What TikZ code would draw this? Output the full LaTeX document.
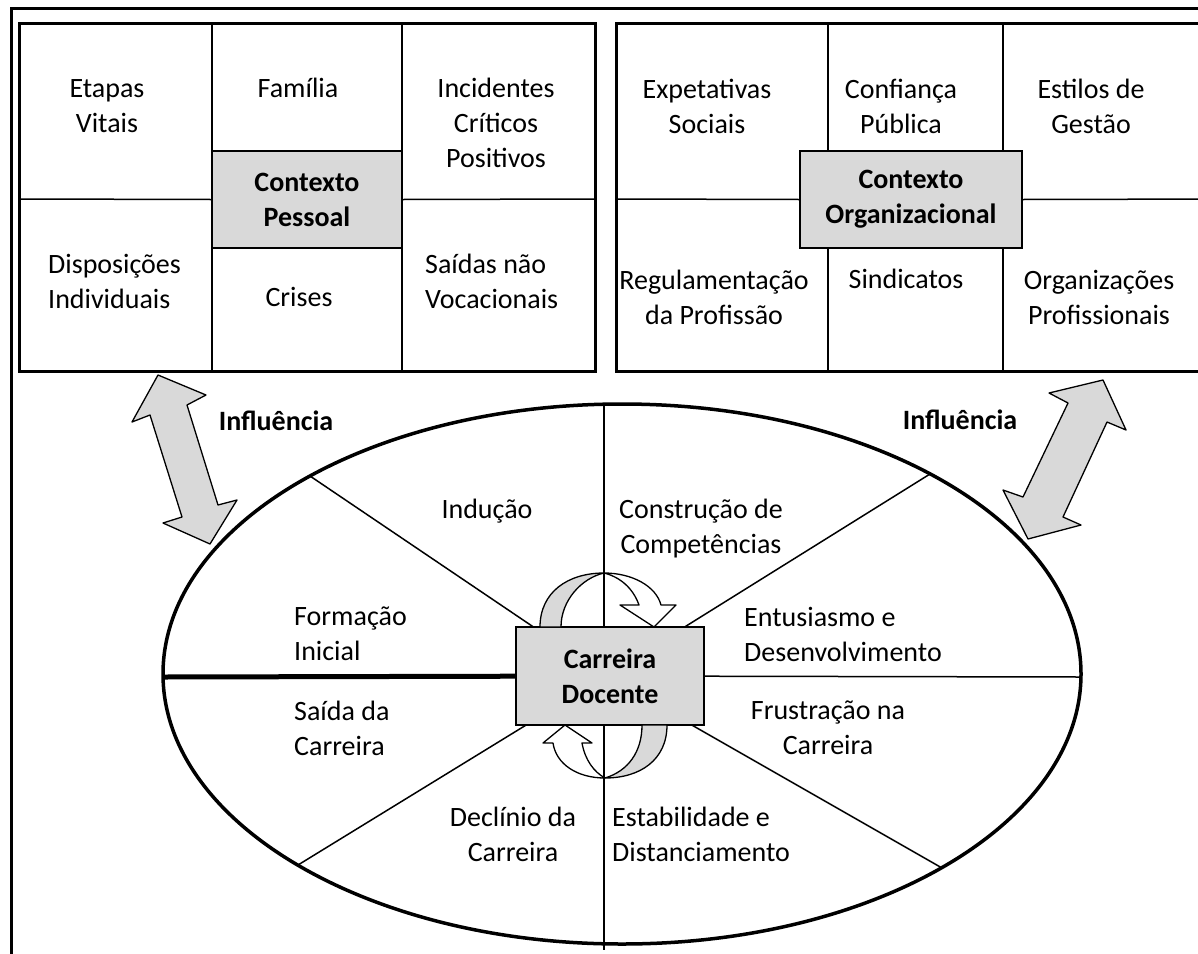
\documentclass[tikz,border=0pt]{standalone}
\usepackage{fontspec}
\setmainfont{Carlito}
\definecolor{boxgray}{RGB}{217,217,217}
\begin{document}
\begin{tikzpicture}[x=1pt,y=-1pt,
  txt/.style={font=\fontsize{28}{35}\selectfont, inner sep=0pt, align=center},
  ltxt/.style={txt, align=left, anchor=west},
  btxt/.style={inner sep=0pt, align=center, font=\fontsize{28}{35}\selectfont\bfseries},
  graybox/.style={draw, line width=1.5pt, fill=boxgray, inner sep=0pt, align=center, font=\fontsize{28}{35}\selectfont\bfseries},
  gridline/.style={line width=1.5pt},
  boldframe/.style={line width=3pt},
  ribbon/.style={draw, line width=1.3pt, line join=round},
  ]
\clip (0,0) rectangle (1198,953);
\fill[white] (0,0) rectangle (1198,953);

% outer frame
\draw[boldframe] (11,8) rectangle (1230,990);

% ---------- left box: Contexto Pessoal ----------
\draw[gridline] (212,23) -- (212,371);
\draw[gridline] (402,23) -- (402,371);
\node[graybox, minimum width=190pt, minimum height=97pt] (cp) at (307,199.5) {Contexto\\Pessoal};
\draw[gridline] (19,199) -- (cp.west);
\draw[gridline] (cp.east) -- (595,199);
\draw[boldframe] (19,23) rectangle (595,371);

\node[txt] (et) at (107,106) {Etapas\\Vitais};
\node[txt] (fa) at (298,88) {Família};
\node[txt] (ic) at (496,123) {Incidentes\\Críticos\\Positivos};
\node[ltxt] (di) at (48,281) {Disposições\\Individuais};
\node[txt] (cr) at (299,297) {Crises};
\node[ltxt] (sn) at (425,281) {Saídas não\\Vocacionais};

% ---------- right box: Contexto Organizacional ----------
\draw[gridline] (828,23) -- (828,371);
\draw[gridline] (1003,23) -- (1003,371);
\node[graybox, minimum width=222pt, minimum height=97pt] (co) at (911,199.5) {Contexto\\Organizacional};
\draw[gridline] (616,199) -- (co.west);
\draw[gridline] (co.east) -- (1230,199);
\draw[boldframe] (616,23) rectangle (1230,371);

\node[txt] (es) at (707,106) {Expetativas\\Sociais};
\node[txt] (cf) at (901,106) {Confiança\\Pública};
\node[txt] (eg) at (1091,106) {Estilos de\\Gestão};
\node[txt] (rp) at (714,297) {Regulamentação\\da Profissão};
\node[txt] (si) at (906,279) {Sindicatos};
\node[txt] (op) at (1099,297) {Organizações\\Profissionais};

% ---------- influence arrows ----------
\filldraw[ribbon, fill=boxgray] (158,375) -- (206,395) -- (187,405) -- (218,505) -- (237,500) -- (210,544) -- (163,523) -- (182,517) -- (150,415) -- (132,422) -- cycle;
\filldraw[ribbon, fill=boxgray] (1103,380) -- (1126,430) -- (1107,422) -- (1063,517) -- (1081,525) -- (1028,539) -- (1003,490) -- (1023,497) -- (1068,403) -- (1049,393) -- cycle;
\node[btxt] (inf1) at (276,421) {Influência};
\node[btxt] (inf2) at (960,420) {Influência};

% ---------- ellipse: Carreira Docente ----------
\coordinate (C) at (606,676);
\coordinate (eT) at (604,404);
\coordinate (eB) at (604,950);
\coordinate (eL) at (163,677);
\coordinate (eR) at (1081,677);
\coordinate (eUL) at (310,476);
\coordinate (eUR) at (930,474);
\coordinate (eLL) at (298,865);
\coordinate (eLR) at (942,868);
\draw[gridline] (eT) -- (eB);
\draw[gridline] (eUL) -- (C);
\draw[gridline] (eUR) -- (C);
\draw[gridline] (eLL) -- (C);
\draw[gridline] (eLR) -- (C);
\draw[gridline] (C) -- (eR);
\draw[line width=5pt] (eL) -- (C);
\draw[line width=3.5pt] (622,674) ellipse [x radius=459pt, y radius=270pt];

\node[graybox, minimum width=188pt, minimum height=98pt] (cd) at (610,676) {Carreira\\Docente};

% circular arrows
\filldraw[ribbon, fill=boxgray] (540,627) .. controls (540,592) and (568,573) .. (604,573) .. controls (582,578) and (561,600) .. (561,627) -- cycle;
\filldraw[ribbon, fill=white] (604,573) .. controls (632,573) and (656,586) .. (661,605) -- (676,605) -- (654,627) -- (620,605) -- (639,605) .. controls (633,588) and (620,577) .. (604,573) -- cycle;
\filldraw[ribbon, fill=boxgray] (667,725) .. controls (667,760) and (640,778) .. (605,778) .. controls (628,771) and (642,752) .. (642,725) -- cycle;
\filldraw[ribbon, fill=white] (605,778) .. controls (577,778) and (556,764) .. (553,743) -- (543,743) -- (565,725) -- (592,743) -- (582,743) .. controls (585,760) and (594,772) .. (605,778) -- cycle;

% sector labels
\node[txt] (ind) at (487,511) {Indução};
\node[txt] (cc) at (701,529) {Construção de\\Competências};
\node[ltxt] (fi) at (294,634) {Formação\\Inicial};
\node[ltxt] (ed) at (744,634) {Entusiasmo e\\Desenvolvimento};
\node[ltxt] (sc) at (294,728) {Saída da\\Carreira};
\node[txt] (fc) at (828,728) {Frustração na\\Carreira};
\node[txt] (dc) at (513,834) {Declínio da\\Carreira};
\node[ltxt] (sd) at (612,834) {Estabilidade e\\Distanciamento};
\end{tikzpicture}
\end{document}
